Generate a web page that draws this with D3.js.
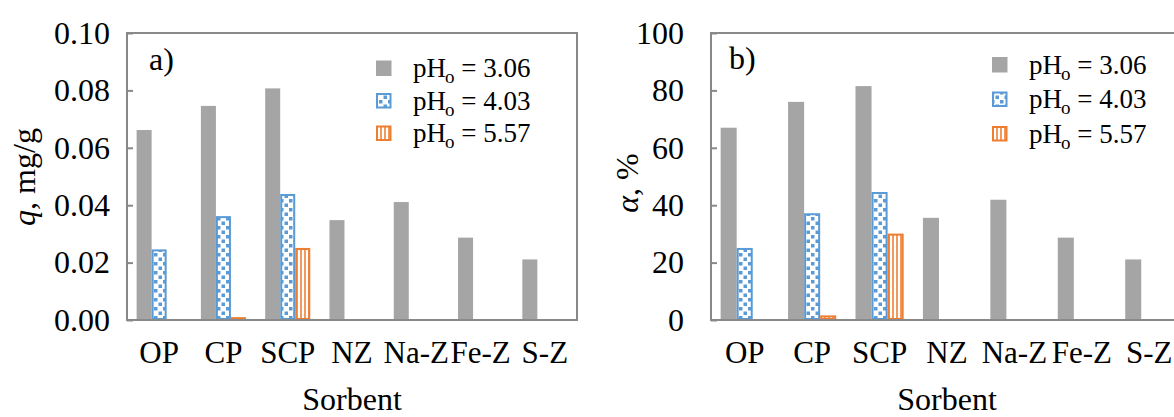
<!DOCTYPE html>
<html>
<head>
<meta charset="utf-8">
<script src="https://cdn.jsdelivr.net/npm/d3@7"></script>
<style>
  body { margin: 0; background: #fff; }
</style>
</head>
<body>
<div id="chart"></div>
<script>
// sorbents on the x axis
var categories = ["OP", "CP", "SCP", "NZ", "Na-Z", "Fe-Z", "S-Z"];
var seriesLabels = ["3.06", "4.03", "5.57"];

// panel a) q, mg/g
var qPh306 = [0.0662, 0.0746, 0.0807, 0.0348, 0.0411, 0.0287, 0.0211];
var qPh403 = [0.0246, 0.0362, 0.0439, null, null, null, null];
var qPh557 = [null, 0.0010, 0.0251, null, null, null, null];
var qTicks = [0, 0.02, 0.04, 0.06, 0.08, 0.10];

// panel b) alpha, %
var aPh306 = [67.0, 76.0, 81.5, 35.6, 41.9, 28.7, 21.1];
var aPh403 = [25.1, 37.2, 44.6, null, null, null, null];
var aPh557 = [null, 1.6, 30.1, null, null, null, null];
var aTicks = [0, 20, 40, 60, 80, 100];

var FONT = "Liberation Serif";
var W = 1174, H = 417;
var svg = d3.select("#chart").append("svg")
  .attr("width", W)
  .attr("height", H)
  .attr("font-family", FONT);

// fill patterns
var defs = svg.append("defs");
var dots = defs.append("pattern")
  .attr("id", "dots")
  .attr("patternUnits", "userSpaceOnUse")
  .attr("width", 9).attr("height", 9);
dots.append("rect").attr("width", 9).attr("height", 9).attr("fill", "#fff");
dots.append("rect").attr("x", 1).attr("y", 1).attr("width", 3.5).attr("height", 3.5).attr("fill", "#5b9bd5");
dots.append("rect").attr("x", 5.5).attr("y", 5.5).attr("width", 3.5).attr("height", 3.5).attr("fill", "#5b9bd5");

var stripes = defs.append("pattern")
  .attr("id", "stripes")
  .attr("patternUnits", "userSpaceOnUse")
  .attr("width", 4).attr("height", 4);
stripes.append("rect").attr("width", 4).attr("height", 4).attr("fill", "#fff");
stripes.append("rect").attr("x", 0).attr("width", 2).attr("height", 4).attr("fill", "#f29a5e");

var styles = [
  {fill: "#a5a5a5", stroke: "none"},
  {fill: "url(#dots)", stroke: "#5b9bd5"},
  {fill: "url(#stripes)", stroke: "#ed7d31"}
];

function addText(g, size) {
  return g.append("text")
    .attr("font-family", FONT)
    .attr("font-size", size)
    .attr("fill", "#000");
}

function drawPanel(p) {
  var g = svg.append("g");

  var x0 = d3.scaleBand()
    .domain(categories)
    .range([p.left, p.right])
    .padding(0);

  var x1 = d3.scaleBand()
    .domain([0, 1, 2])
    .range([0, x0.bandwidth()])
    .paddingInner(0)
    .paddingOuter(p.outer);

  var y = d3.scaleLinear()
    .domain([0, p.max])
    .range([p.bottom, p.top]);

  // bars
  p.series.forEach(function(vals, s) {
    var data = categories.map(function(c, i) { return {cat: c, v: vals[i]}; })
      .filter(function(d) { return d.v != null; });
    var sw = styles[s].stroke == "none" ? 0 : 2;
    g.selectAll(".bar" + s)
      .data(data)
      .enter().append("rect")
      .attr("x", function(d) { return x0(d.cat) + x1(s) + sw / 2; })
      .attr("y", function(d) { return y(d.v) + sw / 2; })
      .attr("width", x1.bandwidth() - sw)
      .attr("height", function(d) { return Math.max(0, y(0) - y(d.v) - sw); })
      .attr("fill", styles[s].fill)
      .attr("stroke", styles[s].stroke)
      .attr("stroke-width", sw);
  });

  // frame
  g.append("rect")
    .attr("x", p.left).attr("y", p.top)
    .attr("width", p.right - p.left)
    .attr("height", p.bottom - p.top)
    .attr("fill", "none")
    .attr("stroke", "#898989")
    .attr("stroke-width", 2);

  // y axis (ticks inward)
  var yAxis = d3.axisLeft(y)
    .tickValues(p.ticks)
    .tickFormat(p.format)
    .tickSizeInner(-6)
    .tickSizeOuter(0)
    .tickPadding(p.yPad);
  var ya = g.append("g")
    .attr("transform", "translate(" + p.left + ",0)")
    .call(yAxis)
    .attr("font-family", FONT)
    .attr("font-size", 32);
  ya.select(".domain").remove();
  ya.selectAll("line").attr("stroke", "#898989").attr("stroke-width", 2);
  ya.selectAll("text")
    .attr("font-family", FONT)
    .attr("font-size", 32)
    .attr("fill", "#000");

  // x axis
  var xAxis = d3.axisBottom(x0).tickSize(0).tickPadding(21);
  var xa = g.append("g")
    .attr("transform", "translate(0," + p.bottom + ")")
    .call(xAxis)
    .attr("font-family", FONT)
    .attr("font-size", 31);
  xa.select(".domain").remove();
  xa.selectAll("text")
    .attr("font-family", FONT)
    .attr("font-size", 31)
    .attr("fill", "#000");

  // axis titles
  addText(g, 32)
    .attr("x", (p.left + p.right) / 2)
    .attr("y", 410)
    .attr("text-anchor", "middle")
    .text("Sorbent");

  var yt = addText(g, 32)
    .attr("transform", "translate(" + p.yTitleX + "," + p.yTitleY + ") rotate(-90)")
    .attr("text-anchor", "middle");
  yt.append("tspan").attr("font-style", "italic").text(p.ySym);
  yt.append("tspan").text(p.yUnit);

  // panel tag
  addText(g, 32)
    .attr("x", p.tagX)
    .attr("y", p.tagY)
    .text(p.tag);

  // legend
  seriesLabels.forEach(function(lab, s) {
    var ly = p.legY + s * p.legStep;
    var sw = styles[s].stroke == "none" ? 0 : 2;
    g.append("rect")
      .attr("x", p.legX + sw / 2)
      .attr("y", ly - 7.5 + sw / 2)
      .attr("width", 15.5 - sw)
      .attr("height", 15.5 - sw)
      .attr("fill", styles[s].fill)
      .attr("stroke", styles[s].stroke)
      .attr("stroke-width", sw);
    var t = addText(g, 27)
      .attr("x", p.legX + 37)
      .attr("y", ly + 9);
    t.append("tspan").text("pH");
    t.append("tspan").attr("dy", 6).attr("dx", -1).attr("font-size", 19).text("o");
    t.append("tspan").attr("dy", -6).text(" = " + lab);
  });
}

drawPanel({
  left: 127, right: 577, top: 33, bottom: 320,
  outer: 0.64, max: 0.10, ticks: qTicks, format: d3.format(".2f"), yPad: 17,
  series: [qPh306, qPh403, qPh557],
  ySym: "q", yUnit: ", mg/g", yTitleX: 35, yTitleY: 177,
  tag: "a)", tagX: 149, tagY: 70,
  legX: 376, legY: 68, legStep: 32.5
});

drawPanel({
  left: 711, right: 1183, top: 33, bottom: 320,
  outer: 0.6, max: 100, ticks: aTicks, format: d3.format("d"), yPad: 27,
  series: [aPh306, aPh403, aPh557],
  ySym: "\u03b1", yUnit: ", %", yTitleX: 638, yTitleY: 183,
  tag: "b)", tagX: 729, tagY: 69,
  legX: 992, legY: 64.5, legStep: 34.5
});
</script>
</body>
</html>
